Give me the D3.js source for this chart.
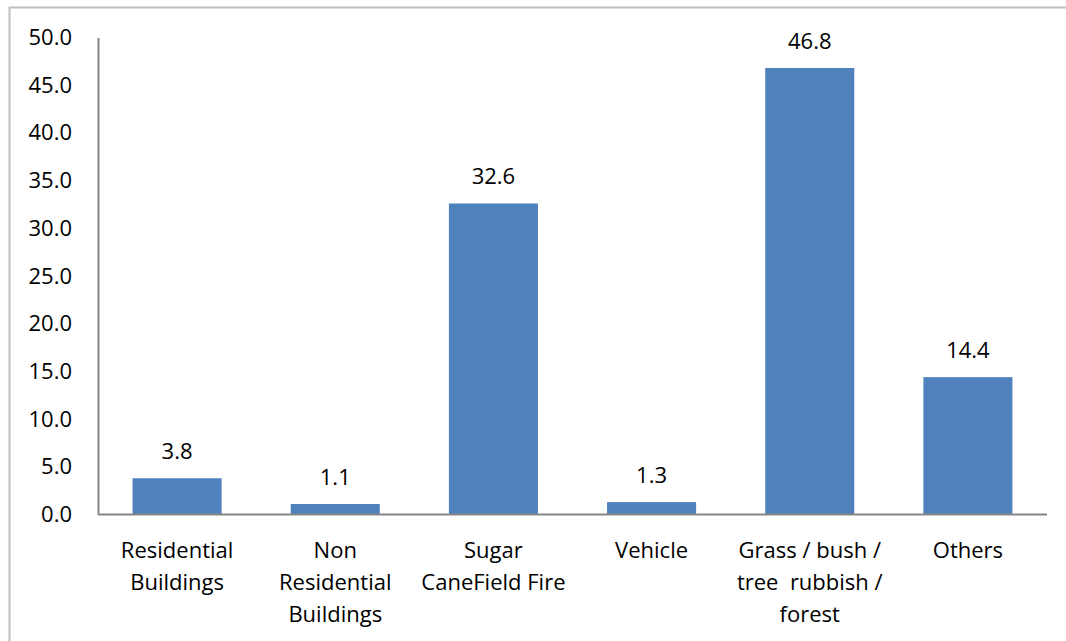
<!doctype html>
<html>
<head>
<meta charset="utf-8">
<style>
  body { margin: 0; background: #fff; }
  #chart { display: block; font-family: "Open Sans", "Noto Sans", sans-serif; }
</style>
</head>
<body>
<svg id="chart"></svg>
<script src="https://cdn.jsdelivr.net/npm/d3@7"></script>
<script>
// chart data
var categories = [
  ["Residential", "Buildings"],
  ["Non", "Residential", "Buildings"],
  ["Sugar", "CaneField Fire"],
  ["Vehicle"],
  ["Grass / bush /", "tree  rubbish /", "forest"],
  ["Others"]
];
var values = [3.8, 1.1, 32.6, 1.3, 46.8, 14.4];
var yTicks = [0, 5, 10, 15, 20, 25, 30, 35, 40, 45, 50];

var width = 1066, height = 641;
var margin = {left: 98, right: 19, top: 37.5, bottom: 126.5};
var fs = 22;

var svg = d3.select("#chart").attr("width", width).attr("height", height);

// outer frame (runs off right and bottom edges)
svg.append("path")
  .attr("d", "M9.5," + (height + 2) + "V7.5H" + (width + 2))
  .attr("fill", "none")
  .attr("stroke", "#bfbfbf")
  .attr("stroke-width", 2);

var idx = d3.range(values.length);
var x = d3.scaleBand()
  .domain(idx)
  .range([margin.left, width - margin.right])
  .paddingInner(0.437)
  .paddingOuter(0.2185);

var y = d3.scaleLinear()
  .domain([0, 50])
  .range([height - margin.bottom, margin.top]);

// y axis
var yAxis = d3.axisLeft(y).tickValues(yTicks).tickSize(0).tickPadding(26)
  .tickFormat(d3.format(".1f"));
var gy = svg.append("g").attr("transform", "translate(" + margin.left + ",0)").call(yAxis);
gy.select(".domain").attr("stroke", "#868686").attr("stroke-width", 2);
gy.selectAll("text").attr("font-size", fs).attr("fill", "#000")
  .attr("font-family", "'Open Sans', sans-serif");

// bars
svg.selectAll("rect.bar")
  .data(values)
  .enter().append("rect")
  .attr("class", "bar")
  .attr("x", function(d, i) { return x(i); })
  .attr("width", x.bandwidth())
  .attr("y", function(d) { return y(d); })
  .attr("height", function(d) { return y(0) - y(d); })
  .attr("fill", "#4f81bd");

// x axis line
svg.append("line")
  .attr("x1", margin.left).attr("x2", width - margin.right)
  .attr("y1", y(0)).attr("y2", y(0))
  .attr("stroke", "#868686").attr("stroke-width", 2);

// value labels
svg.selectAll("text.val")
  .data(values)
  .enter().append("text")
  .attr("class", "val")
  .attr("x", function(d, i) { return x(i) + x.bandwidth() / 2; })
  .attr("y", function(d) { return y(d) - 19; })
  .attr("text-anchor", "middle")
  .attr("font-size", fs)
  .text(function(d) { return d.toFixed(1); });

// category labels
var cat = svg.selectAll("text.cat")
  .data(categories)
  .enter().append("text")
  .attr("class", "cat")
  .attr("text-anchor", "middle")
  .attr("font-size", fs)
  .attr("transform", function(d, i) {
    return "translate(" + (x(i) + x.bandwidth() / 2) + "," + (y(0) + 43) + ")";
  });
cat.selectAll("tspan")
  .data(function(d) { return d; })
  .enter().append("tspan")
  .attr("x", 0)
  .attr("y", function(d, j) { return j * 32; })
  .attr("xml:space", "preserve")
  .style("white-space", "pre")
  .text(function(d) { return d; });
</script>
</body>
</html>
